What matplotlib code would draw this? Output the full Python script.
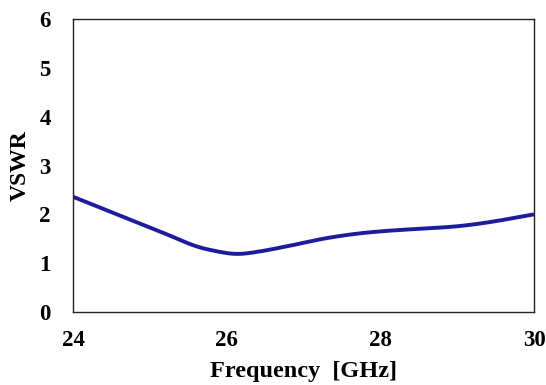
import matplotlib
matplotlib.use("Agg")
import matplotlib.pyplot as plt
import numpy as np

freq = [24.0, 24.35, 24.70, 25.13, 25.56, 25.85, 26.13, 26.43, 26.86, 27.29, 27.73, 28.16, 28.59, 29.03, 29.46, 30.0]
vswr = [2.36, 2.14, 1.92, 1.65, 1.37, 1.25, 1.19, 1.24, 1.37, 1.51, 1.61, 1.67, 1.71, 1.76, 1.85, 2.00]
xticks = [24, 26, 28, 30]
yticks = [0, 1, 2, 3, 4, 5, 6]

plt.rcParams['font.family'] = ['Liberation Serif', 'DejaVu Serif']
plt.rcParams['font.weight'] = 'bold'

fig = plt.figure(figsize=(5.46, 3.85), dpi=100)
ax = fig.add_axes([73/546, 1-312/385, (534-73)/546, (312-19)/385])

def catmull(xp, yp, n=30):
    px, py = [], []
    P = list(zip(xp, yp))
    P = [P[0]] + P + [P[-1]]
    for i in range(1, len(P)-2):
        p0, p1, p2, p3 = map(np.array, (P[i-1], P[i], P[i+1], P[i+2]))
        t = np.linspace(0, 1, n, endpoint=False)[:, None]
        pts = 0.5*((2*p1) + (-p0+p2)*t + (2*p0-5*p1+4*p2-p3)*t**2 + (-p0+3*p1-3*p2+p3)*t**3)
        px.extend(pts[:, 0]); py.extend(pts[:, 1])
    px.append(xp[-1]); py.append(yp[-1])
    return px, py

cx, cy = catmull(freq, vswr)
ax.plot(cx, cy, color='#1c1c9c', lw=2.8, solid_capstyle='butt')

ax.set_xlim(24, 30)
ax.set_ylim(0, 6)
ax.set_xticks(xticks)
ax.set_yticks(yticks)
ax.tick_params(axis='both', length=0, labelsize=16.5)
ax.tick_params(axis='x', pad=13)
ax.tick_params(axis='y', pad=16)
for lab in ax.get_xticklabels() + ax.get_yticklabels():
    lab.set_fontweight('bold')
for s in ax.spines.values():
    s.set_linewidth(1.0)
    s.set_color('#222222')
ax.set_xlabel('Frequency  [GHz]', fontsize=17.5, fontweight='bold', labelpad=7)
ax.set_ylabel('VSWR', fontsize=17, fontweight='bold', labelpad=6)

fig.savefig('out.png', dpi=100)
